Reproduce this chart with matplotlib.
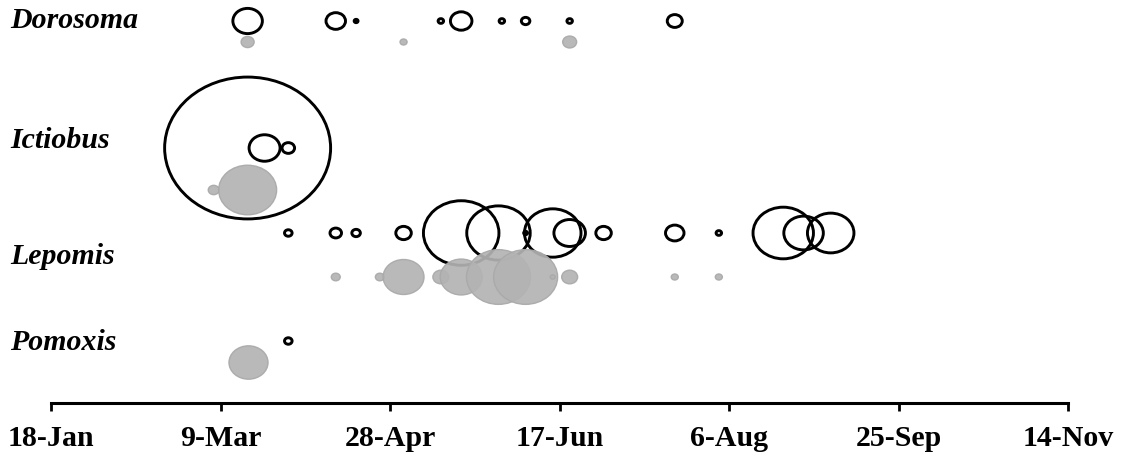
import numpy as np
import matplotlib
matplotlib.use("Agg")
import matplotlib.pyplot as plt
import matplotlib.dates as mdates
import matplotlib.transforms as mtransforms
from matplotlib.collections import EllipseCollection

# --- Data: sampling dates and bubble sizes (relative abundance) ---
species = ["Dorosoma", "Ictiobus", "Lepomis", "Pomoxis"]

# open circles (black outline)
doro_open_dates = ["2007-03-17", "2007-04-12", "2007-04-18", "2007-05-13", "2007-05-19",
                   "2007-05-31", "2007-06-07", "2007-06-20", "2007-07-21"]
doro_open_n = [34.8, 15.2, 0.6, 1.2, 18.5, 1.2, 2.9, 1.2, 9.0]
icti_open_dates = ["2007-03-17", "2007-03-22", "2007-03-29"]
icti_open_n = [1102, 38.4, 6.3]
lepo_open_dates = ["2007-03-29", "2007-04-12", "2007-04-18", "2007-05-02", "2007-05-19",
                   "2007-05-30", "2007-06-07", "2007-06-15", "2007-06-20", "2007-06-30",
                   "2007-07-21", "2007-08-03", "2007-08-22", "2007-08-28", "2007-09-05"]
lepo_open_n = [2.3, 5.3, 2.9, 9.6, 228, 161, 0.6, 128, 39.7, 9.6, 13.7, 1.2, 146, 62.4, 86.5]
pomo_open_dates = ["2007-03-29"]
pomo_open_n = [2.3]

# grey filled circles
doro_grey_dates = ["2007-03-17", "2007-05-02", "2007-06-20"]
doro_grey_n = [6.8, 2.0, 7.8]
icti_grey_dates = ["2007-03-07", "2007-03-17"]
icti_grey_n = [4.8, 134.6]
lepo_grey_dates = ["2007-04-12", "2007-04-25", "2007-05-02", "2007-05-13", "2007-05-19",
                   "2007-05-30", "2007-06-07", "2007-06-15", "2007-06-20", "2007-07-21",
                   "2007-08-03"]
lepo_grey_n = [3.2, 3.2, 67, 10.2, 70.6, 164, 164, 1.0, 10.2, 2.0, 2.0]
pomo_grey_dates = ["2007-03-17"]
pomo_grey_n = [61]

tick_dates = ["2007-01-18", "2007-03-09", "2007-04-28", "2007-06-17",
              "2007-08-06", "2007-09-25", "2007-11-14"]

# --- Layout ---
W, H, DPI = 1126, 459, 100
AX_LEFT, AX_RIGHT, AX_BOTTOM = 51, 1068, 403   # pixels
ROW_Y = {  # vertical position (pixels from top) of open / grey rows
    "Dorosoma": (21, 42),
    "Ictiobus": (148, 190),
    "Lepomis": (233, 277),
    "Pomoxis": (341, 362),
}
LABEL_Y = {"Dorosoma": 21, "Ictiobus": 140, "Lepomis": 256, "Pomoxis": 342}
SIZE_K = 5.0     # bubble diameter in px = SIZE_K * sqrt(n)
ASPECT = 1.17    # bubbles are stretched horizontally
GREY = '#b3b3b3'

plt.rcParams['font.family'] = ['Liberation Serif', 'DejaVu Serif']

fig = plt.figure(figsize=(W / DPI, H / DPI), dpi=DPI)
ax = fig.add_axes([AX_LEFT / W, (H - AX_BOTTOM) / H, (AX_RIGHT - AX_LEFT) / W, AX_BOTTOM / H])

d = lambda s: mdates.date2num(np.datetime64(s))
x0, x1 = d(tick_dates[0]), d(tick_dates[-1])
ax.set_xlim(x0, x1)
ax.set_ylim(AX_BOTTOM, 0)
px_per_day = (AX_RIGHT - AX_LEFT) / (x1 - x0)

open_series = {"Dorosoma": (doro_open_dates, doro_open_n),
               "Ictiobus": (icti_open_dates, icti_open_n),
               "Lepomis": (lepo_open_dates, lepo_open_n),
               "Pomoxis": (pomo_open_dates, pomo_open_n)}
grey_series = {"Dorosoma": (doro_grey_dates, doro_grey_n),
               "Ictiobus": (icti_grey_dates, icti_grey_n),
               "Lepomis": (lepo_grey_dates, lepo_grey_n),
               "Pomoxis": (pomo_grey_dates, pomo_grey_n)}


def bubbles(dates, n, y, **kw):
    xs = np.array([d(s) for s in dates])
    diam = SIZE_K * np.sqrt(np.array(n, dtype=float))
    widths = diam / px_per_day
    heights = diam / ASPECT
    offs = np.column_stack([xs, np.full(len(xs), y)])
    ec = EllipseCollection(widths, heights, np.zeros(len(xs)), units='xy',
                           offsets=offs, offset_transform=ax.transData, **kw)
    ax.add_collection(ec)


for sp in species:
    dates, n = open_series[sp]
    bubbles(dates, n, ROW_Y[sp][0], facecolors='none', edgecolors='black',
            linewidths=2.1, zorder=3)
for sp in species:
    dates, n = grey_series[sp]
    bubbles(dates, n, ROW_Y[sp][1], facecolors=GREY, edgecolors='#a9a9a9',
            linewidths=1.0, alpha=0.92, zorder=4)

# species labels
trans = mtransforms.blended_transform_factory(fig.transFigure, ax.transData)
for sp in species:
    ax.text(10 / W, LABEL_Y[sp], sp, transform=trans, ha='left', va='center',
            fontsize=21.5, fontweight='bold', fontstyle='italic', clip_on=False)

# axis styling
for side in ['left', 'right', 'top']:
    ax.spines[side].set_visible(False)
ax.spines['bottom'].set_linewidth(2.2)
ax.set_yticks([])
ax.set_xticks([d(s) for s in tick_dates])
ax.xaxis.set_major_formatter(mdates.DateFormatter('%-d-%b'))
ax.tick_params(axis='x', direction='out', length=5.5, width=2.0, pad=10.5,
               labelsize=21.5)
for lbl in ax.get_xticklabels():
    lbl.set_fontweight('bold')
ax.patch.set_visible(False)

fig.savefig('out.png', dpi=DPI)
